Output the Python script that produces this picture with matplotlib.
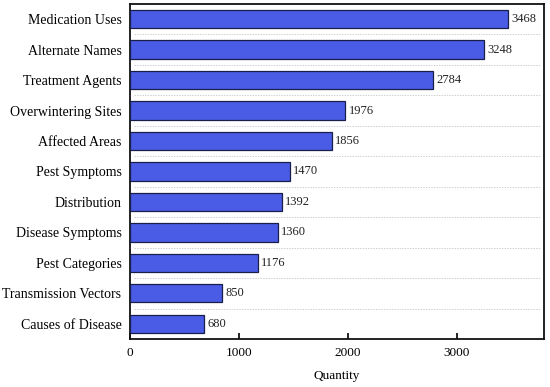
import matplotlib
matplotlib.use("Agg")
import matplotlib.pyplot as plt
import numpy as np

categories = ["Medication Uses", "Alternate Names", "Treatment Agents", "Overwintering Sites",
              "Affected Areas", "Pest Symptoms", "Distribution", "Disease Symptoms",
              "Pest Categories", "Transmission Vectors", "Causes of Disease"]
values = [3468, 3248, 2784, 1976, 1856, 1470, 1392, 1360, 1176, 850, 680]
xticks = [0, 1000, 2000, 3000]

plt.rcParams['font.family'] = ['Liberation Serif', 'DejaVu Serif']

fig = plt.figure(figsize=(5.5, 3.87), dpi=100)
ax = fig.add_axes([0.236, 0.124, 0.753, 0.866])

y = np.arange(len(categories))
ax.barh(y, values, height=0.6, color='#4a5ce6', edgecolor='#1a1f4a', linewidth=0.9, zorder=3)
for yi, v in zip(y, values):
    ax.text(v + 30, yi, str(v), va='center', ha='left', fontsize=9, color='#222222', zorder=4)

ax.set_ylim(len(categories) - 0.5, -0.5)
ax.set_xlim(0, 3800)
ax.set_yticks(y)
ax.set_yticklabels(categories, fontsize=10)
ax.set_xticks(xticks)
ax.set_xticklabels([str(t) for t in xticks], fontsize=9.5)
ax.tick_params(axis='y', length=0, pad=6)
ax.tick_params(axis='x', direction='in', length=4, width=1.2, pad=6)
for yb in np.arange(0.5, len(categories) - 0.5, 1.0):
    ax.axhline(yb, xmin=0.01, xmax=0.99, color='#d0d0d0', linestyle=(0, (1.5, 1.2)), linewidth=0.7, zorder=1)
for s in ax.spines.values():
    s.set_linewidth(1.3)
    s.set_color('#111111')
ax.set_xlabel("Quantity", fontsize=9.5, labelpad=8)

fig.savefig("out.png", dpi=100)
